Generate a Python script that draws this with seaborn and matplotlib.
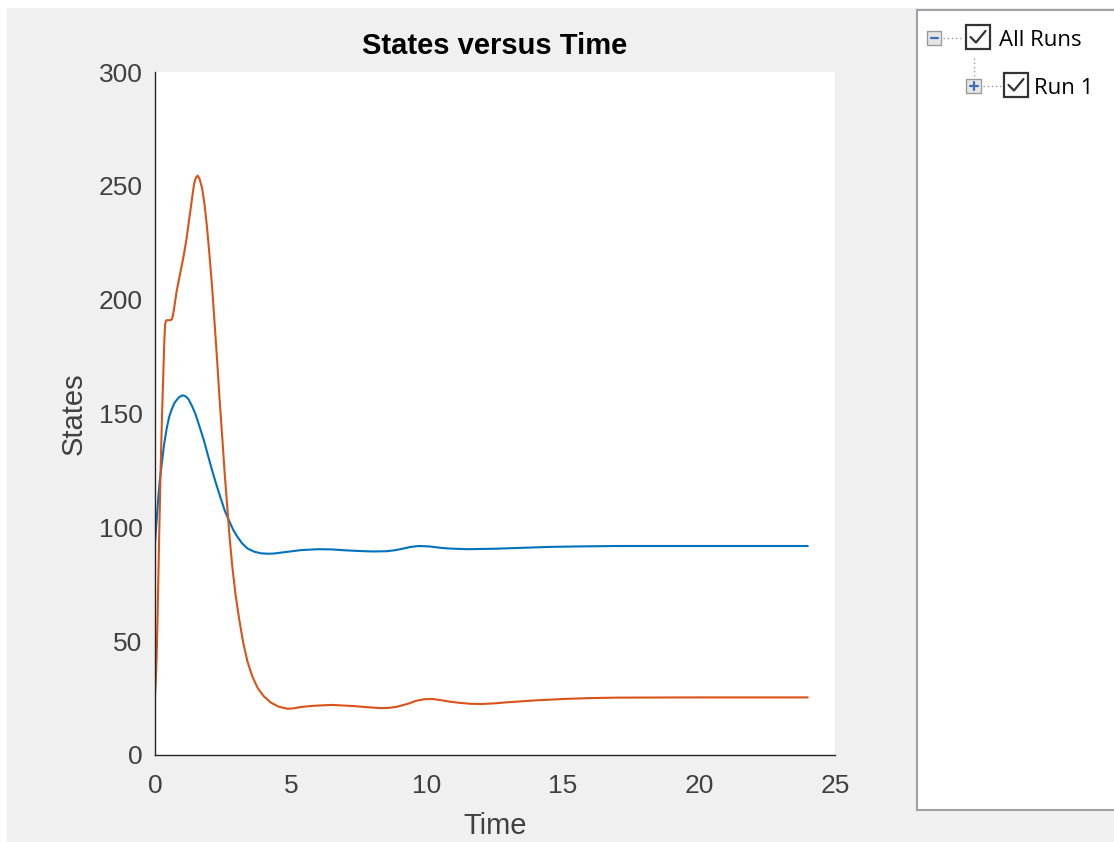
import numpy as np
import pandas as pd
import matplotlib
matplotlib.use("Agg")
import matplotlib.pyplot as plt
from matplotlib.patches import Rectangle
from matplotlib.lines import Line2D
import seaborn as sns

# ---------------- data ----------------
t_blue = [0.0, 0.03, 0.06, 0.09, 0.12, 0.18, 0.25, 0.33, 0.43, 0.52, 0.62, 0.71,
          0.8, 0.9, 1.02, 1.12, 1.23, 1.35, 1.48, 1.63, 1.79, 1.95, 2.1, 2.25,
          2.41, 2.56, 2.72, 2.87, 3.02, 3.2, 3.4, 3.65, 3.89, 4.15, 4.38, 4.9,
          5.37, 6.0, 6.5, 7.0, 7.5, 8.0, 8.5, 8.8, 9.1, 9.4, 9.7, 10.1, 10.5,
          10.8, 11.5, 12.5, 13.5, 14.5, 15.5, 17.0, 20.0, 24.0]
x_blue = [93, 98, 103, 108, 113, 121, 128, 136, 143.5, 148.5, 152, 154.5,
          156, 157.3, 158, 157.6, 156.3, 153.5, 150, 144.5, 138.5, 131.5, 125, 119,
          113, 107.5, 103, 99, 96, 93, 90.7, 89.3, 88.6, 88.4, 88.5, 89.3,
          90, 90.4, 90.3, 89.9, 89.6, 89.4, 89.5, 89.9, 90.6, 91.4, 91.8, 91.6, 91.0,
          90.7, 90.4, 90.6, 91.0, 91.4, 91.6, 91.8, 91.8, 91.8]

t_orange = [0.0, 0.03, 0.06, 0.09, 0.12, 0.16, 0.21, 0.26, 0.31, 0.34, 0.37, 0.4,
            0.43, 0.5, 0.58, 0.62, 0.66, 0.7, 0.75, 0.8, 0.9, 1.05, 1.15, 1.3,
            1.38, 1.44, 1.5, 1.57, 1.64, 1.73, 1.82, 1.91, 2.0, 2.1, 2.19, 2.28,
            2.37, 2.47, 2.56, 2.65, 2.74, 2.84, 2.96, 3.09, 3.24, 3.4, 3.58, 3.77,
            4.0, 4.26, 4.55, 4.88, 5.1, 5.37, 5.8, 6.5, 7.3, 7.8, 8.3, 8.6, 8.9,
            9.3, 9.6, 9.9, 10.2, 10.5, 10.8, 11.2, 11.6, 12.0, 12.5, 13.0, 14.0,
            15.0, 16.0, 17.0, 20.0, 24.0]
x_orange = [26, 33, 43, 58, 76, 100, 127, 150, 169, 181, 189, 190.5,
            191, 191, 191, 191.5, 193, 196, 200, 204, 210, 219, 226, 239,
            246, 251, 253.5, 254.5, 253, 249, 242, 232, 220, 205.5, 190, 174,
            157, 140, 124, 110, 96, 83, 70.5, 60, 49.5, 41, 34.5, 29.5,
            25.8, 23, 21.2, 20.3, 20.5, 21.1, 21.6, 22, 21.5, 21.0, 20.6, 20.7, 21.2,
            22.5, 23.8, 24.5, 24.6, 24.1, 23.5, 22.9, 22.5, 22.4, 22.7, 23.2, 24.0,
            24.6, 25.0, 25.2, 25.3, 25.3]

x_ticks = [0, 5, 10, 15, 20, 25]
y_ticks = [0, 50, 100, 150, 200, 250, 300]
title = "States versus Time"
xlabel = "Time"
ylabel = "States"
tree_labels = ["All Runs", "Run 1"]

df = pd.concat([
    pd.DataFrame({"Time": t_blue, "States": x_blue, "state": "x1"}),
    pd.DataFrame({"Time": t_orange, "States": x_orange, "state": "x2"}),
])

# ---------------- style ----------------
sns.set_style("white")
plt.rcParams["font.family"] = ["Liberation Sans", "DejaVu Sans"]

W, H = 1114, 842
fig = plt.figure(figsize=(W / 100, H / 100), dpi=100, facecolor="white")

def fx(px):
    return px / W

def fy(py):
    return 1 - py / H

# gray figure background
fig.add_artist(Rectangle((fx(7), 0), 1 - fx(7), fy(8), transform=fig.transFigure,
                         facecolor="#f0f0f0", edgecolor="none", zorder=0))

ax_l, ax_r, ax_t, ax_b = 155, 835, 72, 755
ax = fig.add_axes([fx(ax_l), fy(ax_b), (ax_r - ax_l) / W, (ax_b - ax_t) / H])
ax.set_facecolor("white")

sns.lineplot(data=df, x="Time", y="States", hue="state",
             palette=["#0072BD", "#D95319"], linewidth=1.5, legend=False,
             sort=False, estimator=None, ax=ax)

ax.set_xlim(0, 25)
ax.set_ylim(0, 300)
ax.set_xticks(x_ticks)
ax.set_yticks(y_ticks)
dark = "#262626"
tick_c = "#404040"
for s in ["top", "right"]:
    ax.spines[s].set_visible(False)
for s in ["left", "bottom"]:
    ax.spines[s].set_color(dark)
    ax.spines[s].set_linewidth(1.0)
ax.tick_params(axis="both", direction="in", length=5, width=1.0, color=dark,
               labelcolor=tick_c, labelsize=19)
ax.tick_params(axis="x", pad=14)
ax.tick_params(axis="y", pad=9)
ax.set_xlabel(xlabel, fontsize=21, color=tick_c, labelpad=10)
ax.set_ylabel(ylabel, fontsize=21, color=tick_c, labelpad=8)
ax.set_title(title, fontsize=21, fontweight="bold", color="black", pad=13)

# ---------------- right tree panel ----------------
fig.add_artist(Rectangle((fx(917), fy(810)), fx(W + 5) - fx(917), fy(10) - fy(810),
                         transform=fig.transFigure, facecolor="white",
                         edgecolor="#a0a0a8", linewidth=1.5, zorder=1))

def box(x0, y0, w, h, ec, lw, fc="white"):
    fig.add_artist(Rectangle((fx(x0), fy(y0 + h)), w / W, h / H,
                             transform=fig.transFigure, facecolor=fc,
                             edgecolor=ec, linewidth=lw, zorder=3))

def line(xs, ys, **kw):
    fig.add_artist(Line2D([fx(v) for v in xs], [fy(v) for v in ys],
                          transform=fig.transFigure, zorder=4, **kw))

# expand/collapse boxes
box(927, 31, 14, 14, "#9a9a9a", 1.0, fc="#e6e6e6")
line([930.5, 937.5], [38, 38], color="#3c6fb6", linewidth=1.6)
box(966, 79, 15, 14, "#9a9a9a", 1.0, fc="#e6e6e6")
line([969.5, 977.5], [86, 86], color="#3c6fb6", linewidth=1.6)
line([973.5, 973.5], [82, 90], color="#3c6fb6", linewidth=1.6)
# dotted connectors
line([943, 963], [38, 38], color="#9a9a9a", linewidth=1, linestyle=(0, (1, 2)))
line([983, 1002], [86, 86], color="#9a9a9a", linewidth=1, linestyle=(0, (1, 2)))
line([974, 974], [58, 77], color="#9a9a9a", linewidth=1, linestyle=(0, (1, 2)))

# checkboxes with check marks
for (cx, cy) in [(966, 25), (1004, 73)]:
    box(cx, cy, 24, 24, "#333333", 1.6)
    line([cx + 4.5, cx + 10, cx + 19.5], [cy + 12, cy + 17.5, cy + 6],
         color="#333333", linewidth=1.6)

fig.text(fx(999), fy(40), tree_labels[0], fontsize=16, color="black",
         va="center", ha="left", family=["Open Sans", "DejaVu Sans"], zorder=5)
fig.text(fx(1034), fy(88), tree_labels[1], fontsize=16, color="black",
         va="center", ha="left", family=["Open Sans", "DejaVu Sans"], zorder=5)

fig.savefig("out.png", dpi=100, facecolor=fig.get_facecolor())
